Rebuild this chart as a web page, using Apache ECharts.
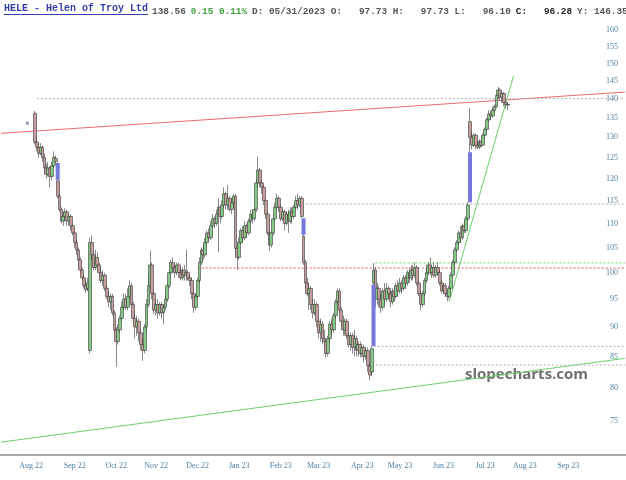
<!DOCTYPE html>
<html>
<head>
<meta charset="utf-8">
<script src="https://cdn.jsdelivr.net/npm/echarts@6/dist/echarts.min.js"></script>
<style>html,body{margin:0;padding:0;background:#fff}#c{width:626px;height:480px}</style>
</head>
<body>
<div id="c"></div>
<script>
// ---- data ----
const axisStart = '2022-07-08';
const axisEnd = '2023-10-13';
const candleStart = '2022-08-03';
const monthLabels = ['Aug 22','Sep 22','Oct 22','Nov 22','Dec 22','Jan 23','Feb 23','Mar 23','Apr 23','May 23','Jun 23','Jul 23','Aug 23','Sep 23'];
const yTicks = [75,80,85,90,95,100,105,110,115,120,125,130,135,140,145,150,155,160];
const yRange = [70.23, 163.8];
// [open, close, low, high] per trading day from candleStart
const ohlc = [
[136.2,128.8,128.2,136.8],[128.8,127.5,126.5,130],[127.5,126,125,128.5],[126,127.5,125.5,128.5],[127.5,125,124,128],
[125,122.5,121.5,126],[122.5,121,120,123.5],[121,122.5,120.5,124],[122.5,120.5,118,123],[120.5,123,119.5,124],
[123,125,122.5,126.5],[124.8,124,123.7,125.5],[119.5,116,115.5,119.7],[116,113,112.5,116.5],[113,110.5,110,113.5],
[110.5,111.5,109.5,112.5],[111.5,112.5,110.5,113.3],[112.5,110.5,109.5,113],[110.5,111.5,109.5,112],[111.5,109.5,108.5,112],
[109.5,108,107.5,110],[108,106,105,108.5],[106,104.5,103.5,106.5],[104.5,102.5,102,105],[102.5,100.5,100,103],
[100.5,99,98.5,101],[99,97.5,97,99.5],[97.5,96.8,96.2,98.5],[97,98,96.5,99],[86,106,85.5,107],
[106,103.5,102.5,107.5],[103.5,101,100.5,104],[101,103,100.5,104.5],[103,101.5,100.5,104],[101.5,100,99,102],
[100,98.5,98,101],[98.5,99.5,97.5,100.5],[99.5,97,96.5,100],[97,95.5,95,97.5],[95.5,94.5,93.5,96.5],
[94.5,95.5,93,96],[95.5,92.5,92,96],[92.5,89.5,89,93],[89.5,87.5,83.3,90],[87.5,89.5,87,90.5],
[89.5,91.5,89,92],[91.5,93.5,91,94.5],[93.5,95,93,96],[95,93.5,93,96],[93.5,95.5,93,97],
[95.5,97.5,95,98.5],[97.5,94,93.5,98],[94,91.5,91,94.5],[91.5,90,88,92.5],[90,91,88.5,92],
[91,89,87.5,91.5],[89,87,86,89.5],[87,86,84.3,88],[86,90,85.5,90.5],[90,94,89.5,95],
[94,97.5,93.5,99],[97.5,101.5,97,104.4],[101.5,96,95,102],[96,93,92.3,96.5],[93,94,92,95],
[94,92.5,91.5,95],[92.5,94,92,94.5],[94,92.5,91.5,94.5],[92.5,93.5,90.5,94],[93.5,95,93,96],
[95,97.5,94.5,98],[97.5,100,97,100.5],[100,102,99.5,102.5],[102,101,100,103],[101,100,99,101.5],
[100,101.5,99.5,102],[101.5,100,99,102],[100,99,98.5,101],[99,100.5,98.5,101],[100.5,99.5,98.5,101.5],
[99.5,100,98.5,104.6],[100,99,98.5,100.5],[99,98.5,97.5,99.5],[98.5,96,95,99],[96,93.5,92.5,96.5],
[93.5,95.5,93,96],[95.5,98.5,95,99],[98.5,102,98,103],[102,104.5,101.5,105],[104.5,103.5,102.5,105.5],
[103.5,106,103,107],[106,108,105.5,108.5],[108,107,106.5,109],[107,109.5,106.5,110.5],[109.5,111,109,112],
[111,110,109,111.5],[110,112,109.5,113],[112,113.5,104,115.5],[113.5,111.5,110,114],[111.5,114,111,115],
[114,116.5,113.5,118],[116.5,114,113,117],[114,115.5,113,118.5],[115.5,113,112.5,116],[113,114.5,112,115.5],
[114.5,116,113.5,116.5],[116,104.8,104,116.5],[104.8,103,100.5,106],[103,106,102.5,107],[106,108.5,105.5,109],
[108.5,107,106,109.5],[107,109.5,106.5,110.5],[109.5,108,107,110],[108,110.5,107.5,111],[110.5,112,110,113],
[112,111,110,113],[111,113,110.5,113.5],[113,119,112.5,120],[119,122,118,125.2],[122,119,118,122.5],
[119,118,116.5,119.5],[118,115,114,118.5],[115,112,111,115.5],[112,108,107.5,112.5],[108,105.5,104.3,108.5],
[105.5,108,105,108.5],[108,111,107.5,111.5],[111,113.5,110.5,114.5],[113.5,115.5,113,116.5],[115.5,113.5,112.5,116],
[113.5,111,110.5,114],[111,112.5,110.5,113],[112.5,110,108.5,113],[110,112,109.5,112.5],[112,110.5,108,113],
[110.5,112.5,110,113.5],[112.5,111.5,110,113.5],[111.5,113.5,111,114],[113.5,115,113,116],[115,114,113,116.5],
[114,115.5,113.5,116],[115.5,111.5,111.1,116],[107.3,102,101.5,107.6],[102,98,97,102.5],[98,96,95.5,99],
[96,97,93,98],[97,94,93,97.5],[94,92.5,91.5,95],[92.5,94,92,95],[94,91,90,94.5],
[91,89,88,91.5],[89,90.5,87.5,91.5],[90.5,88,87,91],[88,87.5,86.5,89.5],[87.5,85.5,84.8,88],
[85.5,88,85,88.5],[88,90.5,87.5,91],[90.5,89.5,88.5,91.5],[89.5,92,89,92.5],[92,94.5,91.5,95],
[94.5,96.5,94,97],[96.5,93,92.5,97],[93,91,90,93.5],[91,89.5,88.5,92],[89.5,91,88.5,91.5],
[91,88.5,88,91.5],[88.5,87,86.5,89],[87,88.5,86,89],[88.5,86.5,85.5,89],[86.5,88,85,89.5],
[88,86,85,88.5],[86,87,85,87.5],[87,85.5,84.8,87.5],[85.5,86.5,85,87],[86.5,85,84,87],
[85,86,84.5,86.5],[86,83.5,82.5,86.5],[83.5,82,81.2,84],[82.5,86.3,81.8,86.7],[98,100.5,97.7,101.9],
[100.5,95,93.5,101],[95,97,94,98],[97,95,93.5,97.5],[95,93.5,92.5,96],[93.5,96.5,93,97],
[96.5,95,94,98],[95,97,94.5,98],[97,96,95,97.5],[96,94.5,93.5,96.5],[94.5,96.5,94,97],
[96.5,95.5,94.5,97.5],[95.5,97.5,95,98],[97.5,96.5,95.5,98.5],[96.5,98,96,99],[98,97,96,98.5],
[97,99,96.5,99.5],[99,98,97,99.5],[98,100,97.5,100.5],[100,99,98,101],[99,100.5,98.5,101.5],
[100.5,99.5,98.5,101.5],[99.5,101,99,102],[101,98,97.5,101.5],[98,96,95.5,98.5],[96,94,93,96.5],
[94,96,93.5,96.5],[96,98.5,95.5,99],[98.5,100,98,101],[100,101.5,99.5,102],[101.5,100,99.5,103],
[100,101,99,101.5],[101,99.5,99,102],[99.5,101,99,101.5],[101,100,99.5,102],[100,98,97.5,100.5],
[98,96.5,96,98.5],[96.5,97.5,96,98],[97.5,96,95.5,98],[96,95.5,94.6,96.5],[95.5,97,95,97.5],
[97,99.5,96.5,100],[99.5,102,99,102.5],[102,104.5,101.5,105],[104.5,106,104,106.5],[106,108,105.5,108.5],
[108,107,106,109.5],[107,109.5,106.5,110],[109.5,108.5,108,110.5],[108.5,111,108,111.5],[111,114,110.5,114.6],
[134,130,126.3,137.6],[130,128,127,131.5],[128,130.5,127.5,131],[130.5,128,127,131],[128,127.5,127,129],
[127.5,129,127,129.5],[129,128,127.5,130],[128,130.5,127.8,131],[130.5,132,130,132.5],[132,134.5,131.5,135],
[134.5,136,134,137],[136,135.5,134.5,137],[135.5,137,135,138],[137,138,136.5,138.5],[138,141,137.5,141.5],
[141,142.5,140,143.3],[142.5,140.5,139.5,143],[140.5,141.5,139,142],[141.5,139,138,142],[139,138.4,137.5,139.5],
[138.4,138.56,137,139.2]
];
// gap fills: [date, from, to]
const gaps = [
  ['2022-08-19', 123.7, 119.7],
  ['2023-02-17', 111.1, 107.6],
  ['2023-04-11', 86.7, 97.7],
  ['2023-06-21', 114.6, 126.3]
];
// horizontal dotted levels: [startDate, price, color]
const levels = [
  ['2022-08-04', 140.1, '#b0b0b0'],
  ['2023-02-16', 114.2, '#b0b0b0'],
  ['2022-12-01', 100.9, '#e05a5a'],
  ['2023-04-12', 101.9, '#6ccf6c'],
  ['2023-04-11', 86.7, '#b0b0b0'],
  ['2023-04-10', 83.6, '#b0b0b0']
];
// trend lines: [[date, price],[date, price], color]
const trends = [
  [['2022-07-08', 131.0], ['2023-10-13', 141.9], '#e86a6a'],
  [['2022-07-08', 72.0], ['2023-10-13', 84.7], '#6ccf6c'],
  [['2023-06-06', 94.5], ['2023-07-24', 146.35], '#6ccf6c']
];
const marker = ['2022-07-28', 133.6];

// ---- build ----
function fmt(d){const m=d.getMonth()+1, dd=d.getDate();return d.getFullYear()+'-'+(m<10?'0':'')+m+'-'+(dd<10?'0':'')+dd;}
function bizDays(a,b){const out=[];const d=new Date(a+'T12:00:00');const e=new Date(b+'T12:00:00');while(d<=e){const w=d.getDay();if(w!==0&&w!==6)out.push(fmt(d));d.setDate(d.getDate()+1);}return out;}
const cats = bizDays(axisStart, axisEnd);
const lastCat = cats[cats.length-1];
const mnames = ['Jan','Feb','Mar','Apr','May','Jun','Jul','Aug','Sep','Oct','Nov','Dec'];
const labelMap = {};
monthLabels.forEach(l=>{
  const mi = mnames.indexOf(l.slice(0,3)); const yr = 2000+parseInt(l.slice(4),10);
  const key = yr+'-'+(mi<9?'0':'')+(mi+1);
  const first = cats.find(c=>c.slice(0,7)===key);
  if(first) labelMap[first]=l;
});
const L = Math.log;
const s0 = cats.indexOf(candleStart);
const candleData = ohlc.map((r,k)=>[cats[s0+k], L(r[0]), L(r[1]), L(r[2]), L(r[3])]);

const series = [];
trends.forEach(t=>{
  series.push({type:'line', data:[[t[0][0], L(t[0][1])],[t[1][0], L(t[1][1])]], symbol:'none', silent:true, z:1,
    lineStyle:{color:t[2], width:1}});
});
levels.forEach(lv=>{
  series.push({type:'line', data:[[lv[0], L(lv[1])],[lastCat, L(lv[1])]], symbol:'none', silent:true, z:1,
    lineStyle:{color:lv[2], width:1, type:[2,2]}});
});
series.push({type:'custom', z:3, silent:true,
  data: gaps.map(g=>[g[0], L(g[1]), L(g[2])]),
  encode:{x:0, y:[1,2]},
  renderItem:(params, api)=>{
    const a = api.coord([api.value(0), api.value(1)]);
    const b = api.coord([api.value(0), api.value(2)]);
    return {type:'rect', shape:{x:a[0]-2, y:Math.min(a[1],b[1]), width:4, height:Math.abs(b[1]-a[1])}, style:{fill:'#7878dc'}};
  }
});
series.push({type:'candlestick', z:2, data:candleData, encode:{x:0, y:[1,2,3,4]}, barWidth:3.3,
  itemStyle:{color:'#86c886', color0:'#c69c9c', borderColor:'#3a3a3a', borderColor0:'#3a3a3a', borderWidth:0.6}});
series.push({type:'scatter', data:[[marker[0], L(marker[1])]], symbol:'rect', symbolSize:3, itemStyle:{color:'#6f7fb8'}, silent:true});

const chart = echarts.init(document.getElementById('c'), null, {renderer:'canvas'});
chart.setOption({
  animation:false,
  backgroundColor:'#ffffff',
  title:[
    {text:'HELE - Helen of Troy Ltd', left:4, top:3, padding:0, textStyle:{fontFamily:'Liberation Mono', fontWeight:'bold', fontSize:10, color:'#3440a8'}},
    {text:'{g|138.56} {n|0.15 0.11%} {g|D: 05/31/2023 O:   97.73 H:   97.73 L:   96.10} {b|C:   96.28} {g|Y: 146.35}', left:152, top:3, padding:0,
      textStyle:{rich:{
        g:{fontFamily:'Liberation Mono', fontSize:9.4, color:'#555555'},
        n:{fontFamily:'Liberation Mono', fontSize:9.4, color:'#3f9f3f'},
        b:{fontFamily:'Liberation Mono', fontSize:9.4, fontWeight:'bold', color:'#222222'}
      }}}
  ],
  graphic:[
    {type:'line', shape:{x1:4, y1:14.5, x2:148, y2:14.5}, style:{stroke:'#3440a8', lineWidth:1}, silent:true},
    {type:'text', left:465, top:367, style:{text:'slopecharts.com', font:'bold 15px "Open Sans"', fill:'#707070'}, silent:true}
  ],
  grid:{left:0, right:0, top:18, bottom:25},
  xAxis:{type:'category', data:cats, boundaryGap:true,
    axisLine:{show:true, lineStyle:{color:'#aaaaaa', width:2}},
    axisTick:{show:false}, splitLine:{show:false},
    axisLabel:{interval:(i,v)=>labelMap[v]!==undefined, formatter:(v)=>labelMap[v]||'', color:'#4f80a8',
      fontFamily:'Liberation Serif', fontSize:8, margin:7, hideOverlap:false}},
  yAxis:{type:'value', position:'right', min:L(yRange[0]), max:L(yRange[1]), scale:true,
    axisLine:{show:false}, axisTick:{show:false}, splitLine:{show:false},
    axisLabel:{inside:true, customValues:yTicks.map(L), formatter:(v)=>String(Math.round(Math.exp(v))),
      color:'#4f80a8', fontFamily:'Liberation Serif', fontSize:8, margin:8}},
  series:series
});
</script>
</body>
</html>
